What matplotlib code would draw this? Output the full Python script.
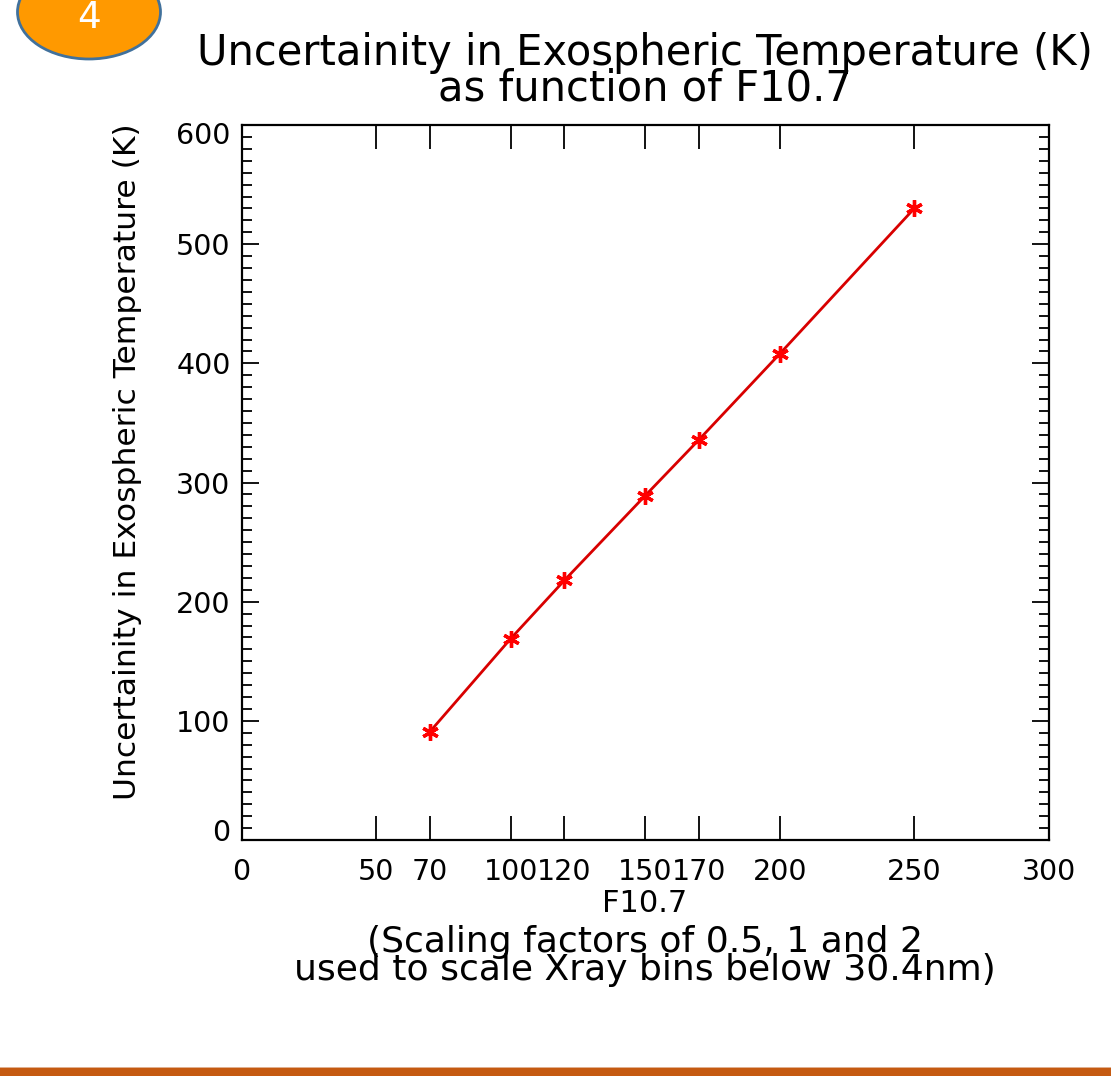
import matplotlib.pyplot as plt
from matplotlib.patches import Ellipse, Rectangle
from matplotlib.transforms import ScaledTranslation

# F10.7 levels and the resulting exospheric temperature uncertainty (K)
f107 = [70, 100, 120, 150, 170, 200, 250]
uncert_T = [91, 169, 218, 289, 336, 408, 530]

x_ticks = [0, 50, 70, 100, 120, 150, 170, 200, 250, 300]
y_ticks = [0, 100, 200, 300, 400, 500, 600]

plt.rcParams['font.family'] = 'DejaVu Sans'

W, H = 1111, 1076
fig = plt.figure(figsize=(W / 100, H / 100), dpi=100)
ax = fig.add_axes([0.2175, 0.2193, 0.7265, 0.6645])

ax.plot(f107, uncert_T, color='#d80000', linewidth=2.0,
        marker=(6, 2, 0), markersize=12, markeredgewidth=2.4,
        markeredgecolor='red', markerfacecolor='red')

ax.set_xlim(0, 300)
ax.set_ylim(0, 600)
ax.set_xticks(x_ticks)
ax.set_yticks(y_ticks)
ax.set_yticks(range(0, 601, 10), minor=True)

ax.tick_params(axis='both', which='both', direction='in', top=True, right=True,
               colors='black', labelsize=20.5)
ax.tick_params(axis='x', which='major', length=17, width=1.3, pad=13)
ax.tick_params(axis='y', which='major', length=12, width=1.3, pad=8)
ax.tick_params(axis='y', which='minor', length=7, width=1.3)
for sp in ax.spines.values():
    sp.set_linewidth(1.6)

# end labels nudged inward along the axis
ylabs = ax.get_yticklabels()
ylabs[0].set_transform(ylabs[0].get_transform() + ScaledTranslation(0, 7 / 72, fig.dpi_scale_trans))
ylabs[-1].set_transform(ylabs[-1].get_transform() + ScaledTranslation(0, -6 / 72, fig.dpi_scale_trans))

# titles and axis labels
fig.text(645 / W, 1 - 71 / H,
         'Uncertainity in Exospheric Temperature (K)\nas function of F10.7',
         fontsize=30, ha='center', va='center', linespacing=0.8)
fig.text(128 / W, 1 - 462 / H, 'Uncertainity in Exospheric Temperature (K)',
         fontsize=22.6, rotation=90, ha='center', va='center')
fig.text(645 / W, 1 - 904 / H, 'F10.7', fontsize=22, ha='center', va='center')
fig.text(645 / W, 1 - 956 / H,
         '(Scaling factors of 0.5, 1 and 2\nused to scale Xray bins below 30.4nm)',
         fontsize=26, ha='center', va='center', linespacing=0.76)

# slide number badge in the top left corner
badge = Ellipse((89, H - 12), 143, 94, transform=None, facecolor='#ff9900',
                edgecolor='#41719c', linewidth=2, zorder=5)
fig.patches.append(badge)
fig.text(89 / W, 1 - 18 / H, '4', color='white', fontsize=27,
         ha='center', va='center', zorder=6)

# footer strip
fig.patches.append(Rectangle((0, 0), 1, 8 / H, transform=fig.transFigure,
                             facecolor='#c55a11', edgecolor='none'))
fig.patches.append(Rectangle((0, 8 / H), 1, 1 / H, transform=fig.transFigure,
                             facecolor='#e0b090', edgecolor='none'))

fig.savefig('out.png', dpi=100)
